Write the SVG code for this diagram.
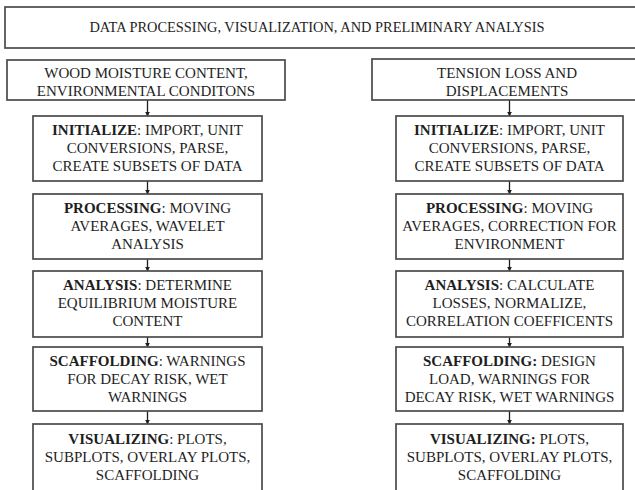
<svg xmlns="http://www.w3.org/2000/svg" width="635" height="490" viewBox="0 0 635 490">
<defs>
<style>
.box{fill:#fff;stroke:#4a4a4a;stroke-width:1.7}
.t{font-family:"Liberation Serif","Times New Roman",serif;font-size:15px;fill:#1e1e1e;text-anchor:middle}
.title{font-size:14.4px}
.b{font-weight:bold}
.conn{stroke:#1e1e1e;stroke-width:1.3;fill:none;marker-end:url(#ah)}
</style>
<marker id="ah" viewBox="0 0 8 8" refX="7" refY="4" markerWidth="5" markerHeight="5" orient="auto" markerUnits="userSpaceOnUse">
<path d="M0,0 L8,4 L0,8 z" fill="#1e1e1e"/>
</marker>
</defs>
<rect width="635" height="490" fill="#fff"/>

<g id="title">
<rect class="box" x="5" y="7" width="640" height="41"/>
<text class="t title" x="317" y="32">DATA PROCESSING, VISUALIZATION, AND PRELIMINARY ANALYSIS</text>
</g>

<g id="connectors">
<line class="conn" x1="147.5" y1="100" x2="147.5" y2="116"/>
<line class="conn" x1="147.5" y1="181" x2="147.5" y2="194"/>
<line class="conn" x1="147.5" y1="259" x2="147.5" y2="271"/>
<line class="conn" x1="147.5" y1="337" x2="147.5" y2="347"/>
<line class="conn" x1="147.5" y1="411" x2="147.5" y2="424"/>
<line class="conn" x1="509.5" y1="100" x2="509.5" y2="116"/>
<line class="conn" x1="509.5" y1="181" x2="509.5" y2="194"/>
<line class="conn" x1="509.5" y1="259" x2="509.5" y2="271"/>
<line class="conn" x1="509.5" y1="337" x2="509.5" y2="347"/>
<line class="conn" x1="509.5" y1="411" x2="509.5" y2="424"/>
</g>

<g id="wood-header">
<rect class="box" x="7" y="60" width="278" height="40"/>
<text class="t" x="146" y="78">WOOD MOISTURE CONTENT,</text>
<text class="t" x="146" y="96">ENVIRONMENTAL CONDITONS</text>
</g>
<g id="wood-initialize">
<rect class="box" x="33" y="116" width="229" height="65"/>
<text class="t" x="147.5" y="135"><tspan class="b">INITIALIZE</tspan>: IMPORT, UNIT</text>
<text class="t" x="147.5" y="153">CONVERSIONS, PARSE,</text>
<text class="t" x="147.5" y="171">CREATE SUBSETS OF DATA</text>
</g>
<g id="wood-processing">
<rect class="box" x="33" y="194" width="229" height="65"/>
<text class="t" x="147.5" y="213"><tspan class="b">PROCESSING</tspan>: MOVING</text>
<text class="t" x="147.5" y="231">AVERAGES, WAVELET</text>
<text class="t" x="147.5" y="249">ANALYSIS</text>
</g>
<g id="wood-analysis">
<rect class="box" x="33" y="271" width="229" height="66"/>
<text class="t" x="147.5" y="290"><tspan class="b">ANALYSIS</tspan>: DETERMINE</text>
<text class="t" x="147.5" y="308">EQUILIBRIUM MOISTURE</text>
<text class="t" x="147.5" y="326">CONTENT</text>
</g>
<g id="wood-scaffolding">
<rect class="box" x="33" y="347" width="229" height="64"/>
<text class="t" x="147.5" y="366"><tspan class="b">SCAFFOLDING</tspan>: WARNINGS</text>
<text class="t" x="147.5" y="384">FOR DECAY RISK, WET</text>
<text class="t" x="147.5" y="402">WARNINGS</text>
</g>
<g id="wood-visualizing">
<rect class="box" x="33" y="424" width="229" height="70"/>
<text class="t" x="147.5" y="444"><tspan class="b">VISUALIZING</tspan>: PLOTS,</text>
<text class="t" x="147.5" y="462">SUBPLOTS, OVERLAY PLOTS,</text>
<text class="t" x="147.5" y="480">SCAFFOLDING</text>
</g>

<g id="tension-header">
<rect class="box" x="372" y="59" width="270" height="41"/>
<text class="t" x="507" y="78">TENSION LOSS AND</text>
<text class="t" x="507" y="96">DISPLACEMENTS</text>
</g>
<g id="tension-initialize">
<rect class="box" x="396" y="116" width="227" height="65"/>
<text class="t" x="509.5" y="135"><tspan class="b">INITIALIZE</tspan>: IMPORT, UNIT</text>
<text class="t" x="509.5" y="153">CONVERSIONS, PARSE,</text>
<text class="t" x="509.5" y="171">CREATE SUBSETS OF DATA</text>
</g>
<g id="tension-processing">
<rect class="box" x="396" y="194" width="227" height="65"/>
<text class="t" x="509.5" y="213"><tspan class="b">PROCESSING</tspan>: MOVING</text>
<text class="t" x="509.5" y="231">AVERAGES, CORRECTION FOR</text>
<text class="t" x="509.5" y="249">ENVIRONMENT</text>
</g>
<g id="tension-analysis">
<rect class="box" x="396" y="271" width="227" height="66"/>
<text class="t" x="509.5" y="290"><tspan class="b">ANALYSIS</tspan>: CALCULATE</text>
<text class="t" x="509.5" y="308">LOSSES, NORMALIZE,</text>
<text class="t" x="509.5" y="326">CORRELATION COEFFICENTS</text>
</g>
<g id="tension-scaffolding">
<rect class="box" x="396" y="347" width="227" height="64"/>
<text class="t" x="509.5" y="366"><tspan class="b">SCAFFOLDING:</tspan> DESIGN</text>
<text class="t" x="509.5" y="384">LOAD, WARNINGS FOR</text>
<text class="t" x="509.5" y="402">DECAY RISK, WET WARNINGS</text>
</g>
<g id="tension-visualizing">
<rect class="box" x="396" y="424" width="227" height="70"/>
<text class="t" x="509.5" y="444"><tspan class="b">VISUALIZING:</tspan> PLOTS,</text>
<text class="t" x="509.5" y="462">SUBPLOTS, OVERLAY PLOTS,</text>
<text class="t" x="509.5" y="480">SCAFFOLDING</text>
</g>
</svg>
